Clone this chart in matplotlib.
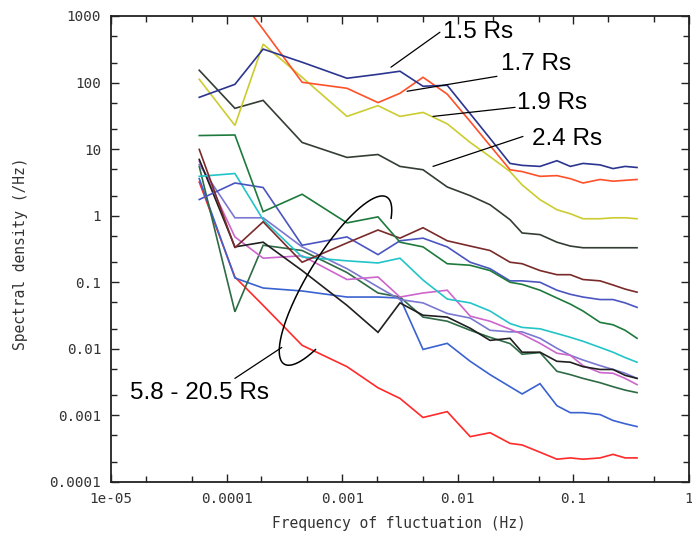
import matplotlib
matplotlib.use("Agg")
import matplotlib.pyplot as plt
import matplotlib.transforms as mtransforms
from matplotlib.ticker import LogLocator, NullFormatter
import numpy as np

# frequency bins of the log-binned spectra (Hz)
freq = [5.8e-5, 1.18e-4, 2.07e-4, 4.5e-4, 1.1e-3, 2.04e-3, 3.16e-3, 5.0e-3,
        8.1e-3, 0.0128, 0.019, 0.0283, 0.036, 0.0514, 0.072, 0.094, 0.121,
        0.17, 0.22, 0.28, 0.355]

# spectral density (/Hz), inner corona
rs15 = [60, 94, 318, 202, 116, 133, 148, 88, 91, 34, 14.5, 6.1, 5.7, 5.5,
        6.7, 5.5, 6.1, 5.8, 5.1, 5.5, 5.3]
rs17 = [4000, 2300, 630, 101, 82, 50, 69, 120, 67, 26, 11.3, 4.9, 4.6, 3.9,
        4.0, 3.6, 3.1, 3.5, 3.3, 3.4, 3.5]
rs19 = [112, 22.7, 378, 120, 31, 45, 31, 35.6, 24, 12.6, 7.7, 4.6, 2.9,
        1.74, 1.23, 1.07, 0.90, 0.90, 0.93, 0.93, 0.90]
rs24 = [153, 41, 54, 12.6, 7.5, 8.3, 5.5, 4.9, 2.7, 2.0, 1.46, 0.87, 0.55,
        0.52, 0.40, 0.35, 0.33, 0.33, 0.33, 0.33, 0.33]

# outer distances, 5.8 - 20.5 Rs
outer_green = [16, 16.3, 1.15, 2.1, 0.78, 0.96, 0.40, 0.34, 0.19, 0.18, 0.15,
               0.10, 0.093, 0.076, 0.058, 0.047, 0.037, 0.025, 0.023, 0.019, 0.0144]
outer_maroon = [9.9, 0.33, 0.81, 0.20, 0.39, 0.61, 0.46, 0.66, 0.42, 0.35, 0.30,
                0.20, 0.19, 0.15, 0.13, 0.13, 0.11, 0.105, 0.091, 0.079, 0.071]
outer_black = [7.0, 0.34, 0.40, 0.15, 0.045, 0.0177, 0.049, 0.032, 0.030, 0.0204,
               0.0134, 0.0144, 0.0089, 0.0089, 0.0065, 0.0063, 0.0054, 0.0049,
               0.0049, 0.0040, 0.0036]
outer_pink = [6.6, 0.48, 0.23, 0.25, 0.11, 0.12, 0.060, 0.069, 0.076, 0.031, 0.026,
              0.0197, 0.0166, 0.0121, 0.0086, 0.0080, 0.0056, 0.0044, 0.0043,
              0.0036, 0.0029]
outer_grey_green = [5.5, 0.036, 0.36, 0.30, 0.14, 0.069, 0.060, 0.030, 0.026, 0.019,
                    0.0149, 0.012, 0.0083, 0.0088, 0.0046, 0.0041, 0.0036, 0.0031,
                    0.0027, 0.0024, 0.0022]
outer_cyan = [3.9, 4.3, 0.87, 0.24, 0.21, 0.195, 0.23, 0.108, 0.056, 0.049, 0.037,
              0.024, 0.021, 0.020, 0.017, 0.0149, 0.013, 0.0105, 0.0089, 0.0074, 0.0063]
outer_blue = [3.6, 0.116, 0.082, 0.074, 0.060, 0.060, 0.058, 0.0098, 0.0121, 0.0065,
              0.0041, 0.0027, 0.0021, 0.0030, 0.0014, 0.0011, 0.0011, 0.00103,
              0.00084, 0.00075, 0.00068]
outer_periwinkle = [1.75, 3.1, 2.65, 0.36, 0.48, 0.26, 0.42, 0.46, 0.34, 0.20, 0.16,
                    0.105, 0.105, 0.10, 0.076, 0.066, 0.060, 0.055, 0.055, 0.049, 0.042]
outer_lavender = [5.9, 0.93, 0.93, 0.34, 0.16, 0.085, 0.055, 0.049, 0.034, 0.029,
                  0.019, 0.018, 0.018, 0.0144, 0.0102, 0.0080, 0.0068, 0.0056,
                  0.0049, 0.0043, 0.0036]
outer_red = [3.2, 0.12, 0.045, 0.0113, 0.0054, 0.0026, 0.0018, 0.00093, 0.00114,
             0.00048, 0.00055, 0.00038, 0.00036, 0.00028, 0.00022, 0.00023, 0.00022,
             0.00023, 0.00026, 0.00023, 0.00023]

series = [
    (outer_red, '#ff2a2a'),
    (outer_blue, '#3a62d0'),
    (outer_grey_green, '#2e6b45'),
    (outer_lavender, '#7a78d0'),
    (outer_pink, '#cc66cc'),
    (outer_black, '#202020'),
    (outer_cyan, '#22c4c8'),
    (outer_periwinkle, '#4a55c0'),
    (outer_maroon, '#7a2a2a'),
    (outer_green, '#1e7a3c'),
    (rs24, '#333d33'),
    (rs19, '#cccc30'),
    (rs17, '#ff5028'),
    (rs15, '#2b3590'),
]

x_ticks = [1e-5, 1e-4, 1e-3, 1e-2, 1e-1, 1]
x_labels = ['1e-05', '0.0001', '0.001', '0.01', '0.1', '1']
y_ticks = [1e-4, 1e-3, 1e-2, 1e-1, 1, 10, 100, 1000]
y_labels = ['0.0001', '0.001', '0.01', '0.1', '1', '10', '100', '1000']

mono = 'DejaVu Sans Mono'
sans = 'Liberation Sans'

fig = plt.figure(figsize=(6.92, 5.38), dpi=100)
ax = fig.add_axes([0.1604, 0.1041, 0.8353, 0.8662])

for values, color in series:
    ax.plot(freq, values, color=color, lw=1.2, solid_joinstyle='miter')

ax.set_xscale('log')
ax.set_yscale('log')
ax.set_xlim(1e-5, 1)
ax.set_ylim(1e-4, 1000)

ax.set_xticks(x_ticks)
ax.set_xticklabels(x_labels, fontfamily=mono, fontsize=10.3, color='#333333')
ax.set_yticks(y_ticks)
ax.set_yticklabels(y_labels, fontfamily=mono, fontsize=10.3, color='#333333')
ax.xaxis.set_minor_locator(LogLocator(base=10, subs=(2.0, 5.0)))
ax.yaxis.set_minor_locator(LogLocator(base=10, subs=(2.0, 5.0)))
ax.xaxis.set_minor_formatter(NullFormatter())
ax.yaxis.set_minor_formatter(NullFormatter())
ax.tick_params(which='both', direction='in', top=True, right=True, width=1.0,
               color='#222222')
ax.tick_params(which='major', length=6, pad=7)
ax.tick_params(which='minor', length=4)
for spine in ax.spines.values():
    spine.set_linewidth(1.3)
    spine.set_color('#222222')

ax.set_xlabel('Frequency of fluctuation (Hz)', fontfamily=mono, fontsize=10.5,
              color='#333333')
ax.set_ylabel('Spectral density (/Hz)', fontfamily=mono, fontsize=10.5,
              color='#333333')
ax.xaxis.set_label_coords(0.498, -0.073)
ax.yaxis.set_label_coords(-0.143, 0.49)

# distance labels with leader lines
labels = [
    ('1.5 Rs', (7.45e-3, 570), (7.0e-3, 570), (2.64e-3, 170)),
    ('1.7 Rs', (0.0237, 189), (0.0218, 124), (3.64e-3, 74)),
    ('1.9 Rs', (0.0325, 48.7), (0.0313, 42.4), (6.1e-3, 31)),
    ('2.4 Rs', (0.0438, 14.4), (0.0366, 15.5), (6.1e-3, 5.5)),
    ('5.8 - 20.5 Rs', (1.46e-5, 2.2e-3), (1.18e-4, 3.6e-3), (3.0e-4, 0.0105)),
]
for text, text_pos, start, tip in labels:
    ax.text(text_pos[0], text_pos[1], text, fontfamily=sans, fontsize=17.5,
            ha='left', va='center', color='black')
    ax.annotate('', xy=tip, xytext=start,
                arrowprops=dict(arrowstyle='-', lw=0.9, color='black',
                                shrinkA=0, shrinkB=0))

# open ellipse grouping the outer-distance curves
cx, cy = ax.transData.transform((8.75e-4, 0.106))
t = np.radians(np.linspace(-33, 225, 240))
a, b, ang = 98, 27, np.radians(58.4)
ex = cx + a * np.cos(t) * np.cos(ang) - b * np.sin(t) * np.sin(ang)
ey = cy + a * np.cos(t) * np.sin(ang) + b * np.sin(t) * np.cos(ang)
ax.plot(ex, ey, color='black', lw=1.1, transform=mtransforms.IdentityTransform())

fig.savefig('out.png', dpi=100)
